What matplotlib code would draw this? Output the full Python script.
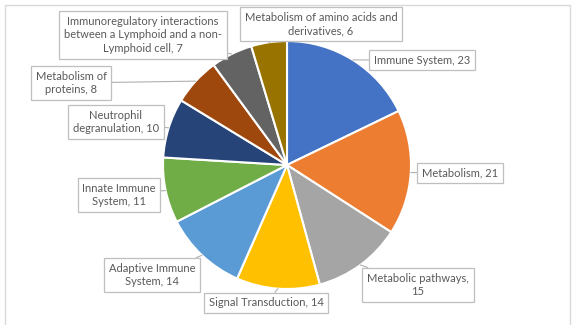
import textwrap
import numpy as np
import matplotlib
matplotlib.use("Agg")
import matplotlib.pyplot as plt
from matplotlib.patches import Rectangle

# ---- data ----
categories = [
    "Immune System",
    "Metabolism",
    "Metabolic pathways",
    "Signal Transduction",
    "Adaptive Immune System",
    "Innate Immune System",
    "Neutrophil degranulation",
    "Metabolism of proteins",
    "Immunoregulatory interactions between a Lymphoid and a non-Lymphoid cell",
    "Metabolism of amino acids and derivatives",
]
values = [23, 21, 15, 14, 14, 11, 10, 8, 7, 6]

# ---- style / layout ----
colors = ["#4472C4", "#ED7D31", "#A5A5A5", "#FFC000", "#5B9BD5",
          "#70AD47", "#264478", "#9E480E", "#636363", "#997300"]
wrap_widths = [40, 40, 19, 40, 15, 13, 18, 13, 30, 30]
# label box centres in pixel coordinates (x from left, y from top)
label_pos = [(422, 60), (460, 173), (418, 285), (266, 303), (152, 275),
             (119, 195), (116, 122), (71, 83), (143, 35), (321, 24)]

W, H = 578, 325
fig = plt.figure(figsize=(W / 100, H / 100), dpi=100)
ax = fig.add_axes([0, 0, 1, 1])

cx, cy, R = 287, H - 165, 124

wedges, _ = ax.pie(values, startangle=90, counterclock=False,
                   center=(cx, cy), radius=R, colors=colors,
                   wedgeprops=dict(edgecolor="white", linewidth=1.5))

ax.set_xlim(0, W)
ax.set_ylim(0, H)
ax.set_aspect("equal")
ax.axis("off")

# chart area border
ax.add_patch(Rectangle((5, -10), 565, H - 5 + 10, fill=False,
                       edgecolor="#D9D9D9", linewidth=1.0, zorder=0))

total = sum(values)
cum = np.cumsum([0] + values[:-1])
for i, (cat, val) in enumerate(zip(categories, values)):
    mid = (cum[i] + val / 2) / total * 2 * np.pi
    ex = cx + R * np.sin(mid)
    ey = cy + R * np.cos(mid)
    text = textwrap.fill(f"{cat}, {val}", width=wrap_widths[i])
    px, py = label_pos[i]
    ax.annotate(text, xy=(ex, ey), xytext=(px, H - py),
                xycoords="data", textcoords="data",
                ha="center", va="center", fontsize=8, family="Lato",
                color="#595959", multialignment="center", linespacing=1.3,
                bbox=dict(boxstyle="square,pad=0.42", fc="white",
                          ec="#BFBFBF", lw=0.9),
                arrowprops=dict(arrowstyle="-", color="#B0B0B0", lw=0.8,
                                shrinkA=0, shrinkB=0))

fig.savefig("out.png", dpi=100)
